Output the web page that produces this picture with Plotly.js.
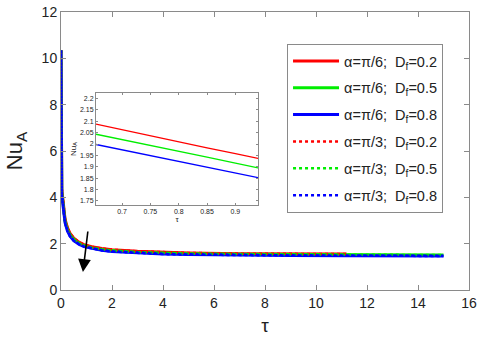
<!DOCTYPE html>
<html>
<head>
<meta charset="utf-8">
<script src="https://cdn.plot.ly/plotly-3.0.1.min.js"></script>
<style>
  html, body { margin: 0; padding: 0; background: #fff; }
  #nu-plot { width: 480px; height: 339px; }
</style>
</head>
<body>
<div id="nu-plot"></div>
<script>
// main curves (alpha = pi/3 curves sit on top of the pi/6 ones)
const tau = [0, 0.003, 0.03, 0.09, 0.16, 0.25, 0.35, 0.5, 0.7, 0.9, 1.2, 1.6, 2, 3, 4, 5, 7, 9, 11.2, 13, 15]
const nuD02 = [10.35, 5.05, 4.35, 3.75, 3.05, 2.7, 2.45, 2.24, 2.063, 1.958, 1.87, 1.79, 1.74, 1.67, 1.63, 1.6, 1.57, 1.56, 1.55]
const nuD05 = [10.35, 4.95, 4.25, 3.65, 2.97, 2.63, 2.39, 2.19, 2.02, 1.916, 1.83, 1.75, 1.7, 1.63, 1.59, 1.57, 1.54, 1.53, 1.52, 1.51, 1.51]
const nuD08 = [10.35, 4.85, 4.15, 3.55, 2.9, 2.56, 2.33, 2.13, 1.975, 1.873, 1.79, 1.71, 1.66, 1.59, 1.55, 1.53, 1.5, 1.49, 1.48, 1.47, 1.47]

// zoomed inset
const tauZoom = [0.654, 0.7, 0.75, 0.8, 0.85, 0.9, 0.94]
const zoomD02 = [2.088, 2.063, 2.035, 2.008, 1.983, 1.958, 1.937]
const zoomD05 = [2.043, 2.02, 1.993, 1.967, 1.942, 1.916, 1.895]
const zoomD08 = [1.998, 1.975, 1.948, 1.922, 1.897, 1.873, 1.852]

const labels = ['α=π/6;  D<sub>f</sub>=0.2', 'α=π/6;  D<sub>f</sub>=0.5', 'α=π/6;  D<sub>f</sub>=0.8',
                'α=π/3;  D<sub>f</sub>=0.2', 'α=π/3;  D<sub>f</sub>=0.5', 'α=π/3;  D<sub>f</sub>=0.8']
const colors = ['#ff0000', '#00ee00', '#0000ff']
const series = [nuD02, nuD05, nuD08]

const font = 'Arial, "Liberation Sans", sans-serif'
let data = []

for (let i = 0; i < 6; i++) {
    const y = series[i % 3]
    data.push({
        type: 'scatter',
        mode: 'lines',
        x: tau.slice(0, y.length),
        y: y,
        name: labels[i],
        legendgroup: 'g' + i,
        line: {
            color: colors[i % 3],
            width: i < 3 ? 3 : 2.5,
            dash: i < 3 ? 'solid' : 'dot',
        },
        hoverinfo: 'skip',
    })
}

const zoomSeries = [zoomD02, zoomD05, zoomD08]
zoomSeries.forEach((y, i) => {
    data.push({
        type: 'scatter',
        mode: 'lines',
        x: tauZoom,
        y: y,
        xaxis: 'x2',
        yaxis: 'y2',
        showlegend: false,
        line: { color: colors[i], width: 1.3 },
        hoverinfo: 'skip',
    })
})

const boxAxis = {
    showline: true,
    mirror: 'ticks',
    linecolor: '#8a8a8a',
    linewidth: 1,
    ticks: 'inside',
    tickcolor: '#8a8a8a',
    showgrid: false,
    zeroline: false,
}

const layout = {
    width: 480,
    height: 339,
    margin: { l: 61, r: 11, t: 12, b: 49 },
    paper_bgcolor: '#fff',
    plot_bgcolor: '#fff',
    font: { family: font, color: '#222' },
    showlegend: true,
    legend: {
        x: 0.554, y: 0.885,
        xanchor: 'left', yanchor: 'top',
        bordercolor: '#8a8a8a', borderwidth: 1,
        bgcolor: '#fff',
        font: { family: font, size: 14.5, color: '#222' },
        tracegroupgap: 5,
        itemwidth: 46,
    },
    xaxis: Object.assign({}, boxAxis, {
        range: [0, 16], dtick: 2, ticklen: 5,
        tickfont: { size: 14 },
        title: { text: 'τ', font: { size: 19 }, standoff: 8 },
    }),
    yaxis: Object.assign({}, boxAxis, {
        range: [0, 12], dtick: 2, ticklen: 5,
        tickfont: { size: 14 },
        title: { text: 'Nu<sub>A</sub>', font: { size: 22 }, standoff: 12 },
    }),
    xaxis2: Object.assign({}, boxAxis, {
        domain: [0.0858, 0.483], anchor: 'y2',
        range: [0.654, 0.94], tickvals: [0.7, 0.75, 0.8, 0.85, 0.9],
        ticktext: ['0.7', '0.75', '0.8', '0.85', '0.9'],
        ticklen: 2,
        tickfont: { size: 7 },
        title: { text: 'τ', font: { size: 8 }, standoff: 2 },
    }),
    yaxis2: Object.assign({}, boxAxis, {
        domain: [0.306, 0.709], anchor: 'x2',
        range: [1.732, 2.225], tickvals: [1.75, 1.8, 1.85, 1.9, 1.95, 2, 2.05, 2.1, 2.15, 2.2],
        ticktext: ['1.75', '1.8', '1.85', '1.9', '1.95', '2', '2.05', '2.1', '2.15', '2.2'],
        ticklen: 2,
        tickfont: { size: 7 },
        title: { text: 'Nu<sub>A</sub>', font: { size: 8 }, standoff: 2 },
    }),
    shapes: [{
        type: 'rect', xref: 'paper', yref: 'paper',
        x0: 0.0858, x1: 0.483, y0: 0.306, y1: 0.709,
        fillcolor: '#fff', line: { width: 0 }, layer: 'below',
    }],
    annotations: [{
        // arrow showing the decreasing trend
        x: 0.86, y: 0.78, ax: 1.06, ay: 2.59,
        xref: 'x', yref: 'y', axref: 'x', ayref: 'y',
        text: '', showarrow: true,
        arrowhead: 2, arrowsize: 1.6, arrowwidth: 1.6, arrowcolor: '#000',
    }],
}

Plotly.newPlot('nu-plot', data, layout, { staticPlot: true })
</script>
</body>
</html>
